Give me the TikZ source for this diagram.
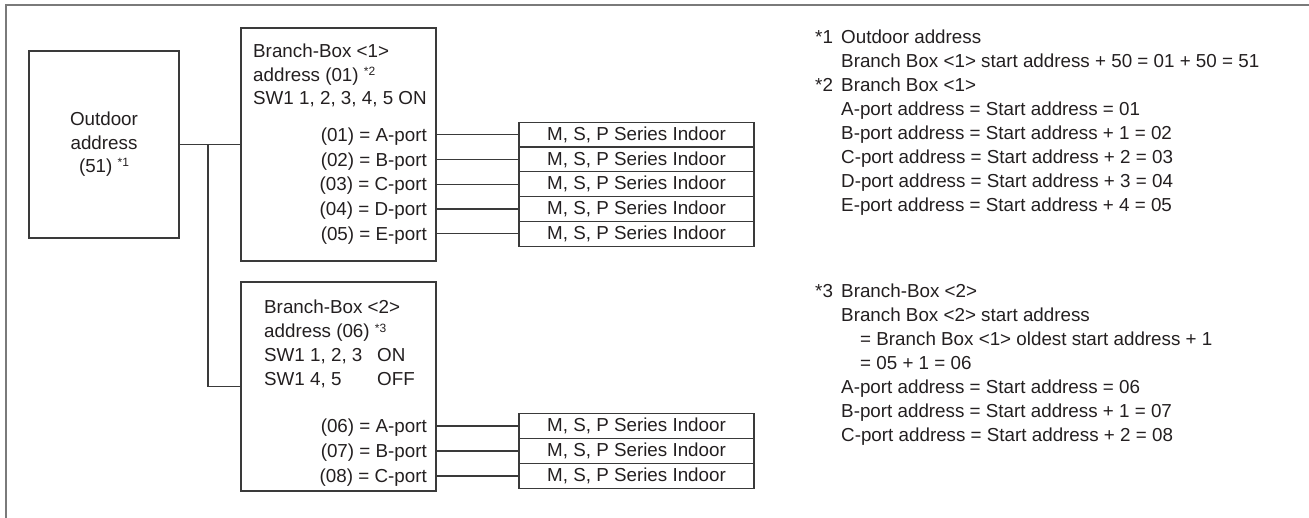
\documentclass[tikz,border=0pt]{standalone}
\usepackage{fontspec}
\setmainfont{Liberation Sans}
\definecolor{ink}{HTML}{231F20}
\definecolor{framec}{HTML}{7A7A7A}
\definecolor{linec}{HTML}{3A3A3A}
\newcommand{\supnote}[1]{\raisebox{0.6ex}{\fontsize{12}{12}\selectfont #1}}
\begin{document}
\begin{tikzpicture}[x=1pt,y=-1pt,
  every node/.style={font=\fontsize{18.8}{23.5}\selectfont, text=ink},
  boxs/.style={draw=linec, line width=1.2pt, inner sep=0pt},
  txt/.style={inner sep=0pt, anchor=base west},
  rtxt/.style={inner sep=0pt, anchor=base east},
  conn/.style={draw=linec, line width=1.1pt},
  indoor/.style={boxs, minimum width=235pt, minimum height=#1}
]
\useasboundingbox (0,0) rectangle (1309,518);
% frame
\draw[framec, line width=2pt] (6,518) -- (6,5) -- (1309,5);

% outdoor unit
\node[boxs, minimum width=150pt, minimum height=187pt, align=center] (od) at (104,144.5)
  {Outdoor\\address\\(51) \supnote{*1}};

% branch boxes
\node[boxs, minimum width=195pt, minimum height=233pt] (b1) at (338.5,144.5) {};
\node[boxs, minimum width=195pt, minimum height=209pt] (b2) at (338.5,386.5) {};

\draw[conn] (od.east) -- (b1.west);
\coordinate (j) at (208,144.5);
\draw[conn] (j) |- (b2.west);

% branch box 1 text
\node[txt] (b1h1) at (253,58) {Branch-Box <1>};
\node[txt] (b1h2) at (253,81.5) {address (01) \supnote{*2}};
\node[txt] (b1h3) at (253,105) {SW1 1, 2, 3, 4, 5 ON};

\node[rtxt] (p11) at (427,141.3) {(01) = A-port};
\node[rtxt] (p12) at (427,166.1) {(02) = B-port};
\node[rtxt] (p13) at (427,190.9) {(03) = C-port};
\node[rtxt] (p14) at (427,215.7) {(04) = D-port};
\node[rtxt] (p15) at (427,240.5) {(05) = E-port};

\node[indoor=24.8pt] (i11) at (636.5,134.6) {M, S, P Series Indoor};
\node[indoor=24.8pt] (i12) at (636.5,159.4) {M, S, P Series Indoor};
\node[indoor=24.8pt] (i13) at (636.5,184.2) {M, S, P Series Indoor};
\node[indoor=24.8pt] (i14) at (636.5,209.0) {M, S, P Series Indoor};
\node[indoor=24.8pt] (i15) at (636.5,233.8) {M, S, P Series Indoor};

\foreach \k in {11,12,13,14,15}
  \draw[conn] (b1.east |- i\k.west) -- (i\k.west);

% branch box 2 text
\node[txt] (b2h1) at (264,314) {Branch-Box <2>};
\node[txt] (b2h2) at (264,338) {address (06) \supnote{*3}};
\node[txt] (b2h3) at (264,362) {SW1 1, 2, 3};
\node[txt] (b2h3b) at (377,362) {ON};
\node[txt] (b2h4) at (264,385) {SW1 4, 5};
\node[txt] (b2h4b) at (377,385) {OFF};

\node[rtxt] (p21) at (427,432.7) {(06) = A-port};
\node[rtxt] (p22) at (427,457.7) {(07) = B-port};
\node[rtxt] (p23) at (427,482.7) {(08) = C-port};

\node[indoor=25pt] (i21) at (636.5,426) {M, S, P Series Indoor};
\node[indoor=25pt] (i22) at (636.5,451) {M, S, P Series Indoor};
\node[indoor=25pt] (i23) at (636.5,476) {M, S, P Series Indoor};

\foreach \k in {21,22,23}
  \draw[conn] (b2.east |- i\k.west) -- (i\k.west);

% notes
\node[txt] (n1) at (815,43.5) {*1};
\node[txt] (n1a) at (841,43.5) {Outdoor address};
\node[txt] (n1b) at (841,67.5) {Branch Box <1> start address + 50 = 01 + 50 = 51};
\node[txt] (n2) at (815,91.5) {*2};
\node[txt] (n2a) at (841,91.5) {Branch Box <1>};
\node[txt] (n2b) at (841,115.5) {A-port address = Start address = 01};
\node[txt] (n2c) at (841,139.5) {B-port address = Start address + 1 = 02};
\node[txt] (n2d) at (841,163.5) {C-port address = Start address + 2 = 03};
\node[txt] (n2e) at (841,187.5) {D-port address = Start address + 3 = 04};
\node[txt] (n2f) at (841,211.5) {E-port address = Start address + 4 = 05};

\node[txt] (n3) at (815,297.5) {*3};
\node[txt] (n3a) at (841,297.5) {Branch-Box <2>};
\node[txt] (n3b) at (841,321.5) {Branch Box <2> start address};
\node[txt] (n3c) at (860,345.5) {= Branch Box <1> oldest start address + 1};
\node[txt] (n3d) at (860,369.5) {= 05 + 1 = 06};
\node[txt] (n3e) at (841,393.5) {A-port address = Start address = 06};
\node[txt] (n3f) at (841,417.5) {B-port address = Start address + 1 = 07};
\node[txt] (n3g) at (841,441.5) {C-port address = Start address + 2 = 08};
\end{tikzpicture}
\end{document}
